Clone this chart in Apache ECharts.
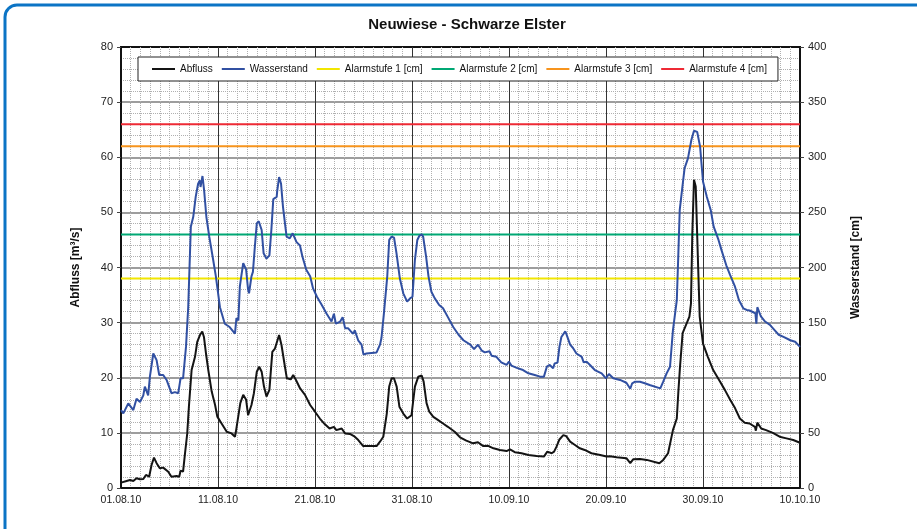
<!DOCTYPE html>
<html>
<head>
<meta charset="utf-8">
<title>Neuwiese - Schwarze Elster</title>
<script src="https://cdn.jsdelivr.net/npm/echarts@6/dist/echarts.min.js"></script>
<style>
  html, body { margin: 0; padding: 0; background: #fff; }
  #chart { width: 917px; height: 529px; }
</style>
</head>
<body>
<div id="chart"></div>
<script>
// Tageswerte ab 01.08.10 (Tag 0) bis 10.10.10 (Tag 70)
const xTickLabels = ['01.08.10', '11.08.10', '21.08.10', '31.08.10', '10.09.10', '20.09.10', '30.09.10', '10.10.10'];

// Abfluss [m³/s]
const abflussDays = [0, 0.58, 0.93, 1.27, 1.6, 1.95, 2.3, 2.57, 2.9, 3.15, 3.4, 3.67, 4.0, 4.35, 4.87, 5.2, 5.73, 6.0, 6.14, 6.4,
  6.6, 6.83, 7.0, 7.28, 7.63, 7.86, 8.14, 8.38, 8.55, 8.76, 9.0, 9.35, 9.7, 9.93, 10.37, 10.9, 11.4, 11.75, 11.9, 12.3,
  12.6, 12.9, 13.1, 13.45, 13.7, 14.0, 14.25, 14.5, 14.74, 15.0, 15.3, 15.6, 15.87, 16.05, 16.3, 16.55, 16.9, 17.1, 17.5, 17.75,
  18.04, 18.45, 18.97, 19.5, 20.0, 20.5, 21.0, 21.5, 21.95, 22.2, 22.75, 23.1, 23.6, 24.1, 24.46, 24.97, 25.66, 26.35, 26.7, 27.04,
  27.4, 27.65, 27.9, 28.14, 28.42, 28.7, 29.1, 29.5, 29.95, 30.3, 30.65, 31.0, 31.2, 31.5, 31.78, 32.2, 32.7, 33.2, 33.7, 34.4,
  34.95, 35.6, 36.3, 36.8, 37.35, 37.85, 38.4, 39.07, 39.75, 40.1, 40.6, 41.3, 42.0, 42.85, 43.6, 43.95, 44.4, 44.65, 44.9, 45.2,
  45.6, 45.9, 46.3, 46.8, 47.3, 47.8, 48.5, 49.4, 50.05, 50.4, 51.1, 52.1, 52.5, 52.8, 53.5, 54.2, 55.5, 55.9, 56.4, 56.9,
  57.3, 57.45, 57.63, 57.9, 58.25, 58.6, 58.76, 58.9, 59.07, 59.25, 59.5, 59.66, 60.0, 60.5, 61.05, 61.75, 62.25, 62.8, 63.3, 63.8,
  64.3, 64.8, 65.35, 65.45, 65.6, 66.0, 66.5, 67.2, 67.9, 68.6, 69.3, 70.0];
const abflussValues = [0.97, 1.27, 1.45, 1.27, 1.76, 1.58, 1.63, 2.36, 2.05, 4.17, 5.5, 4.5, 3.57, 3.7, 2.96, 2.05, 2.18, 2.05, 3.14, 2.96,
  6.3, 9.9, 14.75, 21.4, 23.8, 26.5, 27.75, 28.4, 27.4, 24.4, 21.4, 17.5, 15.06, 12.95, 11.7, 10.2, 9.9, 9.3, 10.8, 15.4,
  16.9, 16.0, 13.2, 15.06, 17.2, 21.1, 22.0, 21.1, 18.4, 16.6, 17.8, 24.7, 25.3, 25.6, 27.75, 25.9, 22.0, 19.9, 19.7, 20.5,
  19.6, 18.1, 16.9, 15.06, 13.84, 12.6, 11.6, 10.8, 11.1, 10.5, 10.8, 9.9, 9.8, 9.3, 8.7, 7.6, 7.6, 7.6, 8.4, 9.3,
  13.5, 18.4, 19.9, 19.9, 18.4, 14.75, 13.5, 12.6, 13.2, 18.4, 20.2, 20.4, 19.3, 15.4, 13.84, 12.9, 12.3, 11.7, 11.1, 10.2,
  9.2, 8.6, 8.1, 8.3, 7.6, 7.65, 7.2, 6.9, 6.7, 7.0, 6.5, 6.3, 6.0, 5.8, 5.7, 6.6, 6.3, 6.6, 7.5, 8.8,
  9.6, 9.4, 8.4, 7.8, 7.2, 6.9, 6.3, 6.0, 5.7, 5.75, 5.56, 5.4, 4.5, 5.2, 5.26, 5.1, 4.5, 5.1, 6.3, 10.5,
  12.6, 17.2, 22.0, 28.1, 29.6, 31.1, 33.5, 46.2, 55.9, 54.7, 40.1, 31.1, 26.2, 23.8, 21.4, 19.3, 17.8, 16.0, 14.5, 12.6,
  11.85, 11.7, 11.1, 10.4, 11.85, 10.8, 10.5, 10.0, 9.3, 9.0, 8.7, 8.2];

// Wasserstand [cm]
const pegelDays = [0, 0.24, 0.75, 1.27, 1.6, 1.96, 2.3, 2.46, 2.8, 2.98, 3.33, 3.67, 3.94, 4.35, 4.7, 5.2, 5.56, 5.9, 6.14, 6.4,
  6.7, 6.93, 7.2, 7.45, 7.7, 7.95, 8.13, 8.2, 8.4, 8.57, 8.8, 9.1, 9.5, 9.78, 10.2, 10.7, 11.2, 11.75, 11.9, 12.1,
  12.25, 12.4, 12.6, 12.9, 13.1, 13.2, 13.45, 13.6, 13.8, 14.0, 14.2, 14.5, 14.7, 15.0, 15.3, 15.5, 15.7, 16.05, 16.1, 16.3,
  16.5, 16.7, 17.07, 17.4, 17.7, 17.9, 18.1, 18.45, 18.7, 19.1, 19.5, 19.8, 20.2, 20.7, 21.2, 21.7, 21.95, 22.15, 22.6, 22.85,
  23.1, 23.4, 23.7, 23.95, 24.1, 24.45, 24.8, 25.0, 25.3, 26.35, 26.7, 26.85, 27.1, 27.45, 27.65, 27.9, 28.15, 28.4, 28.75, 29.1,
  29.5, 29.8, 30.05, 30.3, 30.55, 30.75, 31.0, 31.15, 31.45, 31.7, 32.0, 32.35, 32.8, 33.2, 33.7, 34.25, 34.8, 35.3, 36.0, 36.4,
  36.8, 37.2, 37.5, 38.0, 38.2, 38.7, 39.2, 39.75, 40.0, 40.25, 40.8, 41.45, 42.0, 42.65, 43.2, 43.6, 43.9, 44.2, 44.55, 44.7,
  45.0, 45.2, 45.4, 45.8, 45.9, 46.3, 46.6, 46.95, 47.5, 47.7, 48.0, 48.35, 48.85, 49.55, 50.0, 50.3, 50.75, 51.45, 52.1, 52.5,
  52.7, 53.0, 53.5, 54.0, 54.5, 55.6, 55.9, 56.25, 56.6, 56.9, 57.3, 57.45, 57.6, 57.9, 58.1, 58.45, 58.8, 59.07, 59.4, 59.7,
  60.0, 60.4, 60.8, 61.1, 61.6, 61.9, 62.4, 62.8, 63.3, 63.7, 64.15, 64.5, 64.8, 65.4, 65.5, 65.6, 65.95, 66.4, 66.9, 67.4,
  67.8, 68.3, 69.0, 69.5, 70.0];
const pegelValues = [70.7, 67.7, 76.8, 70.7, 81, 78, 84, 92, 84, 101, 122, 116, 102.5, 102.5, 98, 86, 87, 86, 99.5, 99.5,
  128, 164, 237, 246, 264, 276, 279, 273, 283, 270, 246, 228, 207, 192, 164, 149, 146, 140, 154, 152,
  182.6, 192, 204, 198, 180, 176.6, 192, 196, 219, 240, 242, 234, 213, 208, 211, 234, 262, 264, 269, 282,
  276, 255, 228, 226.5, 231, 232.5, 223, 220, 210, 198, 192, 181, 173.5, 166, 158, 151, 158, 149, 151, 155,
  145, 145, 142, 140, 143, 134, 130, 121, 122, 123, 130, 136, 158, 192, 225, 228, 227, 213, 190, 176.6,
  169, 172, 173.5, 207, 225, 228.6, 230, 228, 210, 192, 178, 172, 166, 163, 155, 146, 139, 134, 130, 126,
  130, 124.5, 123, 124, 120, 119, 114, 111.6, 114.6, 111, 109, 107, 104, 102.5, 101, 101, 110, 111.6, 108.6, 113,
  113.7, 128, 137, 142, 140, 130, 127, 122, 119, 114, 114.6, 111.6, 107, 104, 99.5, 103.4, 99.5, 98, 95.5, 90,
  95, 96.4, 96.4, 95, 93.4, 90.4, 96.4, 104, 110, 143, 170.5, 210, 252, 275, 290, 299, 315.6, 324, 323, 309.6,
  278, 264, 252, 237, 225, 216, 202, 193, 182.6, 170.5, 163, 161.5, 161, 158.5, 149, 164, 156, 151, 148, 143,
  139, 137, 134, 132.7, 128];

// Alarmstufen [cm]
const alarmNames = ['Alarmstufe 1 [cm]', 'Alarmstufe 2 [cm]', 'Alarmstufe 3 [cm]', 'Alarmstufe 4 [cm]'];
const alarmLevels = [190, 230, 310, 330];
const alarmColors = ['#f2e600', '#00a874', '#f7941d', '#ee2a35'];

const zip = (xs, ys) => xs.map((x, i) => [x, ys[i]]);

const chart = echarts.init(document.getElementById('chart'));

const font = 'Arial, "Liberation Sans", sans-serif';

const alarmSeries = alarmNames.map((name, i) => ({
  name: name,
  type: 'line',
  yAxisIndex: 1,
  symbol: 'none',
  silent: true,
  lineStyle: { color: alarmColors[i], width: 2 },
  itemStyle: { color: alarmColors[i] },
  data: [[0, alarmLevels[i]], [70, alarmLevels[i]]],
  z: 3
}));

const option = {
  backgroundColor: '#fff',
  animation: false,
  textStyle: { fontFamily: font },
  graphic: [{
    type: 'rect',
    shape: { x: 5, y: 5, width: 1000, height: 1000, r: 12 },
    style: { fill: 'none', stroke: '#0b74c5', lineWidth: 3 },
    silent: true
  }],
  title: {
    text: 'Neuwiese - Schwarze Elster',
    left: 462,
    textAlign: 'center',
    top: 12,
    textStyle: { fontFamily: font, fontSize: 15, fontWeight: 'bold', color: '#111' }
  },
  legend: {
    data: ['Abfluss', 'Wasserstand'].concat(alarmNames),
    left: 138,
    top: 57,
    orient: 'horizontal',
    backgroundColor: '#fff',
    borderColor: '#222',
    borderWidth: 1,
    padding: [6, 11, 6, 14],
    icon: 'rect',
    itemWidth: 23,
    itemHeight: 2,
    itemGap: 9,
    textStyle: { fontFamily: font, fontSize: 10, color: '#111', lineHeight: 12 }
  },
  grid: {
    left: 121, right: 117, top: 47, bottom: 41,
    show: true,
    borderColor: '#111',
    borderWidth: 2,
    backgroundColor: 'transparent'
  },
  xAxis: {
    type: 'value',
    min: 0,
    max: 70,
    interval: 10,
    axisLine: { show: true, lineStyle: { color: '#111', width: 2 } },
    axisTick: { show: false },
    axisLabel: {
      color: '#222', fontSize: 10.5, margin: 7,
      formatter: v => xTickLabels[Math.round(v / 10)]
    },
    splitLine: { show: true, lineStyle: { color: '#333', width: 1 } },
    minorTick: { show: false, splitNumber: 10 },
    minorSplitLine: { show: true, lineStyle: { color: '#b0b0b0', width: 1, type: [1, 1] } }
  },
  yAxis: [{
    type: 'value',
    min: 0,
    max: 80,
    interval: 10,
    name: 'Abfluss [m³/s]',
    nameLocation: 'middle',
    nameRotate: 90,
    nameGap: 39,
    nameTextStyle: { fontFamily: font, fontSize: 12, fontWeight: 'bold', color: '#111' },
    axisLine: { show: true, lineStyle: { color: '#111', width: 2 } },
    axisTick: { show: true, length: 4, lineStyle: { color: '#444' } },
    axisLabel: { color: '#222', fontSize: 11, margin: 8 },
    splitLine: { show: true, showMaxLine: false, lineStyle: { color: '#7d7d7d', width: 1.5 } },
    minorTick: { show: false, splitNumber: 5 },
    minorSplitLine: { show: true, lineStyle: { color: '#b0b0b0', width: 1, type: [1, 1] } }
  }, {
    type: 'value',
    min: 0,
    max: 400,
    interval: 50,
    position: 'right',
    name: 'Wasserstand [cm]',
    nameLocation: 'middle',
    nameRotate: 90,
    nameGap: 50,
    nameTextStyle: { fontFamily: font, fontSize: 12, fontWeight: 'bold', color: '#111' },
    axisLine: { show: true, lineStyle: { color: '#111', width: 2 } },
    axisTick: { show: true, length: 4, lineStyle: { color: '#444' } },
    axisLabel: { color: '#222', fontSize: 11, margin: 8 },
    splitLine: { show: false }
  }],
  series: alarmSeries.concat([{
    name: 'Abfluss',
    type: 'line',
    yAxisIndex: 0,
    symbol: 'none',
    lineStyle: { color: '#141414', width: 2 },
    itemStyle: { color: '#141414' },
    data: zip(abflussDays, abflussValues),
    z: 4
  }, {
    name: 'Wasserstand',
    type: 'line',
    yAxisIndex: 1,
    symbol: 'none',
    lineStyle: { color: '#3150a2', width: 2 },
    itemStyle: { color: '#3150a2' },
    data: zip(pegelDays, pegelValues),
    z: 4
  }])
};

chart.setOption(option);
</script>
</body>
</html>
